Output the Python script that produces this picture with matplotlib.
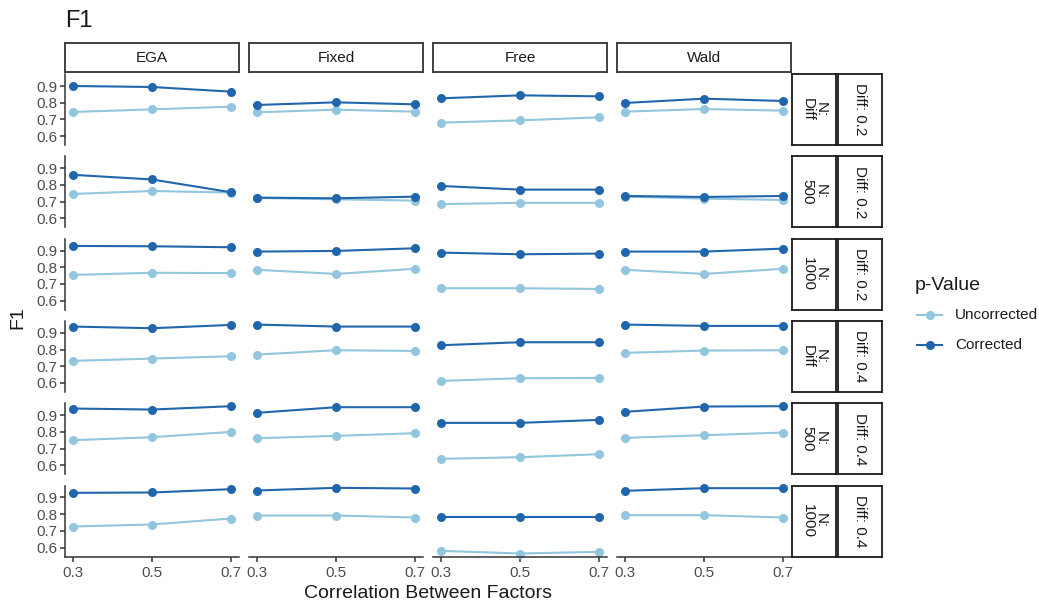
import matplotlib
matplotlib.use("Agg")
import matplotlib.pyplot as plt
from matplotlib.lines import Line2D

plt.rcParams['font.family'] = ['Liberation Sans', 'DejaVu Sans']

# ---- data ----
x_vals = [0.3, 0.5, 0.7]
methods = ["EGA", "Fixed", "Free", "Wald"]
n_labels = ["N:\nDiff", "N:\n500", "N:\n1000", "N:\nDiff", "N:\n500", "N:\n1000"]
diff_labels = ["Diff: 0.2", "Diff: 0.2", "Diff: 0.2", "Diff: 0.4", "Diff: 0.4", "Diff: 0.4"]
series = ["Uncorrected", "Corrected"]
colors = ["#92C5DE", "#2166AC"]

# uncorrected[row][method] -> values at x_vals
uncorrected = [
    [[0.744, 0.760, 0.776], [0.742, 0.758, 0.746], [0.680, 0.694, 0.712], [0.746, 0.762, 0.752]],
    [[0.746, 0.764, 0.754], [0.722, 0.714, 0.706], [0.685, 0.693, 0.693], [0.730, 0.718, 0.710]],
    [[0.754, 0.767, 0.765], [0.785, 0.760, 0.791], [0.674, 0.674, 0.670], [0.785, 0.760, 0.791]],
    [[0.732, 0.746, 0.760], [0.770, 0.796, 0.792], [0.612, 0.628, 0.630], [0.780, 0.794, 0.796]],
    [[0.750, 0.768, 0.800], [0.762, 0.776, 0.792], [0.638, 0.648, 0.666], [0.764, 0.780, 0.796]],
    [[0.726, 0.738, 0.774], [0.792, 0.792, 0.780], [0.580, 0.564, 0.574], [0.794, 0.794, 0.780]],
]
corrected = [
    [[0.900, 0.894, 0.866], [0.786, 0.802, 0.790], [0.826, 0.844, 0.838], [0.798, 0.824, 0.810]],
    [[0.861, 0.833, 0.756], [0.724, 0.720, 0.730], [0.794, 0.772, 0.772], [0.734, 0.728, 0.734]],
    [[0.928, 0.926, 0.920], [0.894, 0.898, 0.914], [0.888, 0.878, 0.882], [0.894, 0.894, 0.912]],
    [[0.938, 0.928, 0.948], [0.950, 0.938, 0.938], [0.826, 0.844, 0.844], [0.950, 0.942, 0.942]],
    [[0.940, 0.934, 0.954], [0.914, 0.948, 0.948], [0.854, 0.854, 0.872], [0.920, 0.952, 0.954]],
    [[0.928, 0.930, 0.950], [0.942, 0.958, 0.954], [0.782, 0.782, 0.782], [0.940, 0.956, 0.956]],
]
y_ticks = [0.6, 0.7, 0.8, 0.9]
x_ticks = [0.3, 0.5, 0.7]

# ---- layout (pixels) ----
W, H = 1039, 602
fig = plt.figure(figsize=(W / 100, H / 100), dpi=100)

def ax_px(x0, y0, w, h):
    return fig.add_axes([x0 / W, 1 - (y0 + h) / H, w / W, h / H])

col_x = [65, 249, 433, 617]
col_w = 174
row_y = [74, 156.3, 238.6, 320.9, 403.2, 485.5]
row_h = 71
tick_color = "#4D4D4D"
line_color = "#333333"
strip_fs = 11

for r in range(6):
    for c in range(4):
        ax = ax_px(col_x[c], row_y[r], col_w, row_h)
        ax.set_xlim(0.2806, 0.7194)
        ax.set_ylim(0.546, 0.972)
        for s, data in enumerate([uncorrected, corrected]):
            ax.plot(x_vals, data[r][c], color=colors[s], lw=1.5, marker="o",
                    markersize=6.5, markeredgewidth=0, zorder=2 + s, clip_on=False)
        for sp in ["top", "right"]:
            ax.spines[sp].set_visible(False)
        ax.spines["left"].set_visible(c == 0)
        ax.spines["bottom"].set_visible(r == 5)
        for sp in ["left", "bottom"]:
            ax.spines[sp].set_linewidth(1.1)
            ax.spines[sp].set_color(line_color)
        if c == 0:
            ax.set_yticks(y_ticks)
            ax.set_yticklabels([f"{v:.1f}" for v in y_ticks])
            ax.tick_params(axis="y", length=3.5, width=1.1, color=line_color,
                           labelsize=11, labelcolor=tick_color, pad=2)
        else:
            ax.set_yticks([])
        if r == 5:
            ax.set_xticks(x_ticks)
            ax.set_xticklabels([f"{v:.1f}" for v in x_ticks])
            ax.tick_params(axis="x", length=3.5, width=1.1, color=line_color,
                           labelsize=11, labelcolor=tick_color, pad=3.5)
        else:
            ax.set_xticks([])
        ax.patch.set_alpha(0)

        # top strips
        if r == 0:
            sax = ax_px(col_x[c], 43, col_w, 29)
            sax.set_xticks([]); sax.set_yticks([])
            for sp in sax.spines.values():
                sp.set_linewidth(1.3); sp.set_color("#333333")
            sax.text(0.5, 0.5, methods[c], ha="center", va="center",
                     fontsize=strip_fs, color="#1A1A1A", transform=sax.transAxes)

    # right strips
    nax = ax_px(792, row_y[r], 44, row_h)
    dax = ax_px(838, row_y[r], 44, row_h)
    for a, txt in [(nax, n_labels[r]), (dax, diff_labels[r])]:
        a.set_xticks([]); a.set_yticks([])
        for sp in a.spines.values():
            sp.set_linewidth(1.3); sp.set_color("#1A1A1A")
        a.text(0.5, 0.5, txt, ha="center", va="center", rotation=-90,
               fontsize=strip_fs, color="#1A1A1A", transform=a.transAxes,
               linespacing=0.9)

# titles / labels
fig.text(65 / W, 1 - 21 / H, "F1", fontsize=17, ha="left", va="center", color="#1A1A1A")
fig.text(18 / W, 1 - 318 / H, "F1", fontsize=14, rotation=90, ha="center", va="center",
         color="#1A1A1A")
fig.text(428 / W, 1 - 593 / H, "Correlation Between Factors", fontsize=14,
         ha="center", va="center", color="#1A1A1A")

# legend
fig.text(915 / W, 1 - 285 / H, "p-Value", fontsize=14, ha="left", va="center",
         color="#1A1A1A")
leg_y = [315, 345]
for s in range(2):
    y = 1 - leg_y[s] / H
    fig.add_artist(Line2D([917 / W, 942 / W], [y, y], color=colors[s], lw=1.5,
                          transform=fig.transFigure))
    fig.add_artist(Line2D([929.5 / W], [y], color=colors[s], marker="o",
                          markersize=6.5, markeredgewidth=0, lw=0,
                          transform=fig.transFigure))
    fig.text(955 / W, y, series[s], fontsize=11, ha="left", va="center",
             color="#1A1A1A")

fig.savefig("out.png", dpi=100)
